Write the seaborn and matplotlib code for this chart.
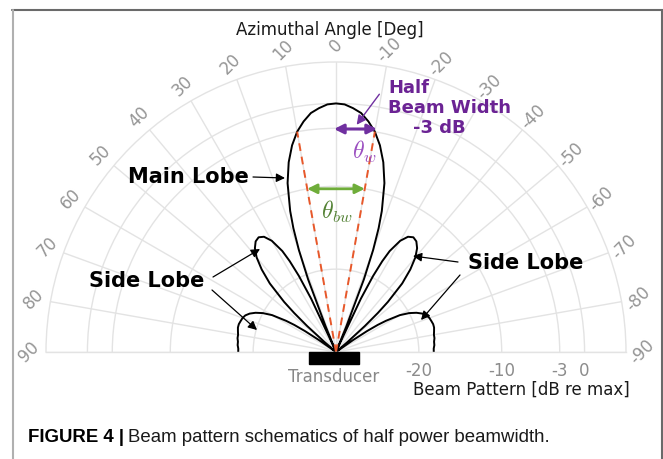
import matplotlib
matplotlib.use("Agg")
import matplotlib.pyplot as plt
import numpy as np
import pandas as pd
import seaborn as sns
from matplotlib.patches import Rectangle

# beam pattern (one half, pattern is symmetric)
half_angle_deg = [0, 2, 4, 6, 8, 10, 12, 14, 16, 18, 19, 20, 21, 22, 23, 24, 25,
                  26, 27, 28, 30, 32, 34, 36, 38, 40, 42, 44, 46, 47, 48, 49, 50,
                  52, 54, 55, 56, 57, 58, 60, 62, 64, 66, 68, 70, 72, 74, 76, 78,
                  80, 82, 84, 86, 88, 90]
half_level_db = [0, -0.1, -0.5, -1.0, -1.9, -3.0, -4.5, -6.4, -8.8, -12.1, -14.2,
                 -16.9, -20.6, -26.6, -30, -28.9, -22.9, -19.8, -17.7, -16.2,
                 -14.5, -13.6, -13.3, -13.5, -14.1, -15.1, -16.6, -18.5, -21.3,
                 -23.1, -25.3, -28.2, -30, -30, -30, -27.5, -25.5, -24.0, -22.9,
                 -21.1, -20.0, -19.2, -18.6, -18.2, -18.0, -17.9, -17.8, -17.8,
                 -17.9, -18.0, -18.0, -18.1, -18.1, -18.2, -18.2]

angle_ticks_deg = list(range(-90, 91, 10))
level_ticks_db = [-20, -10, -3, 0]
level_min, level_max = -30, 5
half_width_deg = 10      # -3 dB half beam width
half_width_db = -3
bw_arrow_db = -10

sns.set_theme(style="white")
plt.rcParams["font.family"] = ["DejaVu Sans"]
plt.rcParams["axes.unicode_minus"] = False
plt.rcParams["mathtext.fontset"] = "cm"
plt.rcParams["text.color"] = "black"

W, H = 663, 459


def fx(x):
    return x / W


def fy(y):
    return 1 - y / H


half_angle = np.array(half_angle_deg, dtype=float)
half_level = np.array(half_level_db, dtype=float)
df = pd.DataFrame({
    "theta": np.deg2rad(np.r_[-half_angle[::-1], half_angle[1:]]),
    "level": np.r_[half_level[::-1], half_level[1:]],
})

fig = plt.figure(figsize=(W / 100, H / 100), dpi=100)
# square box: the half disc sits in its middle (centre at x=336, y=352 px)
ax = fig.add_axes([fx(46), fy(497), 580 / W, 580 / H], projection="polar")
ax.set_theta_zero_location("N")
ax.set_theta_direction(1)
ax.set_thetamin(-90)
ax.set_thetamax(90)
ax.set_ylim(level_min, level_max)

sns.lineplot(data=df, x="theta", y="level", sort=False, estimator=None,
             color="black", lw=1.4, ax=ax)

# -3 dB lines
for s in (-1, 1):
    th = np.deg2rad(s * half_width_deg)
    sns.lineplot(x=[th, th], y=[level_min, half_width_db], color="#e8582a",
                 lw=1.4, ls=(0, (4, 3)), sort=False, estimator=None, ax=ax)

ax.set_xticks(np.deg2rad(angle_ticks_deg))
ax.set_xticklabels([str(a) for a in angle_ticks_deg])
ax.set_yticks(level_ticks_db)
ax.set_yticklabels([str(v) for v in level_ticks_db])
ax.tick_params(axis="x", labelrotation=45, colors="#959595", labelsize=12, pad=-1)
ax.tick_params(axis="y", colors="#8c8c8c", labelsize=12, pad=1)
ax.grid(True, color="#e3e3e3", lw=1)
for sp in ax.spines.values():
    sp.set_color("#e3e3e3")
    sp.set_linewidth(1)
ax.set_xlabel("")
ax.set_ylabel("")

# beam width arrows
fig.add_artist(matplotlib.patches.FancyArrowPatch(
    (fx(334), fy(129)), (fx(377), fy(129)), transform=fig.transFigure,
    arrowstyle="<|-|>", color="#7030a0", lw=2.2, mutation_scale=14,
    shrinkA=0, shrinkB=0))
ax.annotate("", xy=(np.deg2rad(-half_width_deg), bw_arrow_db),
            xytext=(np.deg2rad(half_width_deg), bw_arrow_db),
            arrowprops=dict(arrowstyle="<|-|>", color="#6fad3a", lw=2,
                            mutation_scale=14, shrinkA=0, shrinkB=0))
fig.text(fx(364), fy(152), r"$\theta_w$", color="#9b4fc0", fontsize=17,
         ha="center", va="center")
fig.text(fx(337), fy(212), r"$\theta_{bw}$", color="#548235", fontsize=17,
         ha="center", va="center")

fig.text(fx(388), fy(108), "Half\nBeam Width\n    -3 dB", color="#6b2394",
         fontsize=13, fontweight="bold", ha="left", va="center", linespacing=1.15)
fig.add_artist(matplotlib.patches.FancyArrowPatch(
    (fx(381), fy(92)), (fx(355), fy(127)), transform=fig.transFigure,
    arrowstyle="-|>", color="#7030a0", lw=1, mutation_scale=14))

# lobe labels
arrow_kw = dict(arrowstyle="-|>", color="black", lw=0.9, mutation_scale=13,
                shrinkA=0, shrinkB=0)
fig.text(fx(188), fy(177), "Main Lobe", fontsize=15, fontweight="bold",
         ha="center", va="center")
fig.add_artist(matplotlib.patches.FancyArrowPatch(
    (fx(253), fy(177)), (fx(285), fy(178)), transform=fig.transFigure, **arrow_kw))

fig.text(fx(147), fy(281), "Side Lobe", fontsize=15, fontweight="bold",
         ha="center", va="center")
for a, b in [((213, 277), (260, 249)), ((212, 290), (257, 330))]:
    fig.add_artist(matplotlib.patches.FancyArrowPatch(
        (fx(a[0]), fy(a[1])), (fx(b[0]), fy(b[1])), transform=fig.transFigure,
        **arrow_kw))

fig.text(fx(526), fy(263), "Side Lobe", fontsize=15, fontweight="bold",
         ha="center", va="center")
for a, b in [((458, 262), (413, 256)), ((460, 275), (421, 320))]:
    fig.add_artist(matplotlib.patches.FancyArrowPatch(
        (fx(a[0]), fy(a[1])), (fx(b[0]), fy(b[1])), transform=fig.transFigure,
        **arrow_kw))

# transducer
fig.add_artist(Rectangle((fx(309), fy(364)), 50 / W, 12 / H,
                         transform=fig.transFigure, color="black"))
fig.text(fx(334), fy(377), "Transducer", color="#888888", fontsize=12,
         ha="center", va="center")

fig.text(fx(330), fy(30), "Azimuthal Angle [Deg]", fontsize=12, ha="center",
         va="center", color="#1a1a1a")
fig.text(fx(521), fy(390), "Beam Pattern [dB re max]", fontsize=12,
         ha="center", va="center", color="#1a1a1a")

# frame and caption
fig.add_artist(plt.Line2D([fx(12), fx(663)], [fy(10), fy(10)],
                          transform=fig.transFigure, color="#6a6a6a", lw=1.5))
fig.add_artist(plt.Line2D([fx(12.5), fx(12.5)], [fy(10), 0],
                          transform=fig.transFigure, color="#b0b0b0", lw=1.5))
fig.add_artist(plt.Line2D([fx(662), fx(662)], [fy(10), 0],
                          transform=fig.transFigure, color="#6a6a6a", lw=1.5))
t1 = fig.text(fx(28), fy(438), "FIGURE 4 |", fontsize=13.4, fontweight="bold",
              family="Liberation Sans", va="center", ha="left")
ax.annotate("Beam pattern schematics of half power beamwidth.", xy=(1, 0.5),
            xycoords=t1, xytext=(3, 0), textcoords="offset points",
            fontsize=13.4, family="Liberation Sans", va="center", ha="left",
            annotation_clip=False, color="#1a1a1a")

fig.savefig("out.png", dpi=100)
